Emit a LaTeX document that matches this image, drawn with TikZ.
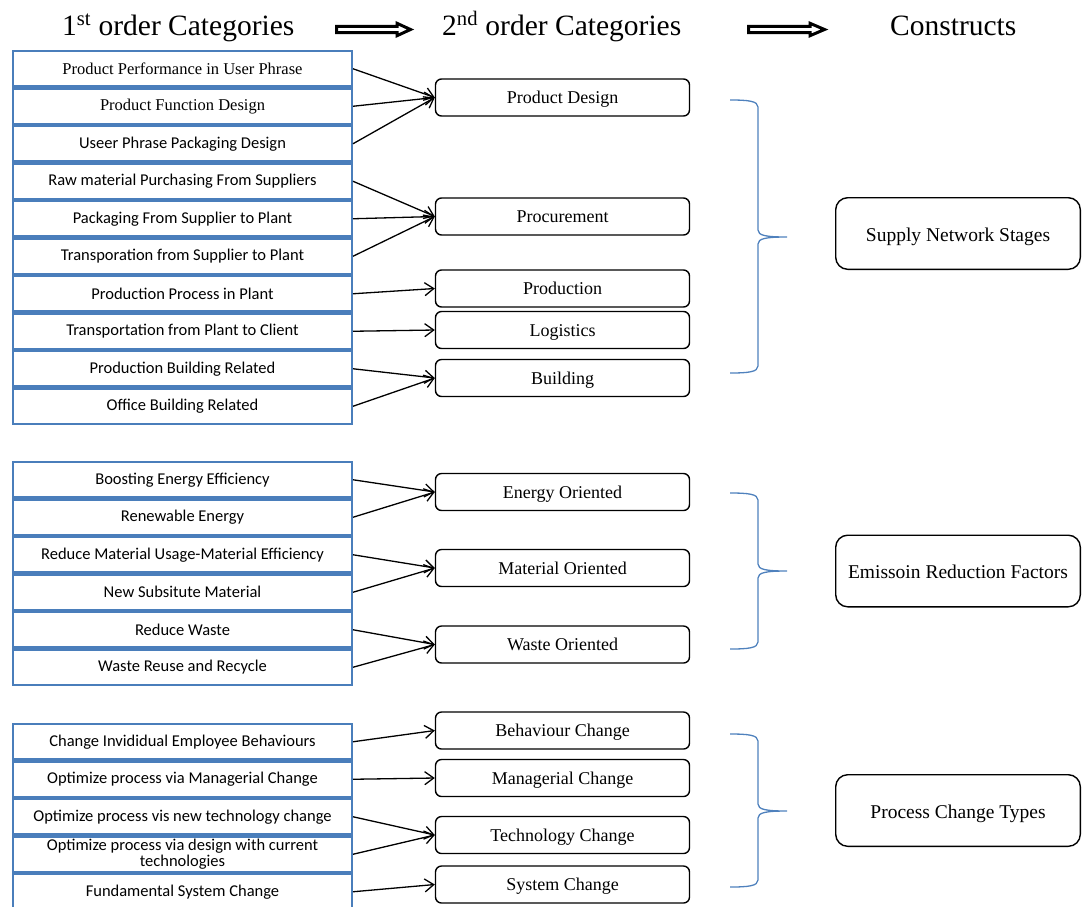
\documentclass[tikz,border=0pt]{standalone}
\usepackage{fontspec}
\setmainfont{Liberation Serif}
\newfontfamily\calfont{Carlito}
\usetikzlibrary{arrows.meta}

\definecolor{boxblue}{RGB}{74,126,187}
\definecolor{braceblue}{RGB}{79,129,189}

\tikzset{
  item/.style={draw=boxblue, line width=2.4pt, fill=white, minimum width=338.6pt,
    minimum height=35.1pt, inner sep=0pt, align=center,
    font=\calfont\fontsize{16.5}{17.5}\selectfont},
  itemserif/.style={item, font=\fontsize{16.5}{17.5}\selectfont},
  cat/.style={draw, rounded corners=6pt, line width=1.4pt, minimum width=254pt,
    minimum height=37pt, inner sep=0pt, text height=15pt, text depth=3pt,
    font=\fontsize{18}{20}\selectfont},
  construct/.style={draw, rounded corners=12pt, line width=1.4pt, minimum width=244.6pt,
    minimum height=71.6pt, inner sep=0pt, text height=17pt, text depth=2pt,
    font=\fontsize{19.5}{22}\selectfont},
  link/.style={line width=1.3pt, -{Straight Barb[length=9pt,width=13pt,line width=1.3pt]}},
  brace/.style={draw=braceblue, line width=1.3pt},
  head/.style={inner sep=0pt, anchor=base west, font=\fontsize{29.5}{32}\selectfont},
  bigarrow/.style={draw, fill=white, line width=3pt, line join=miter},
}

% right-hand curly brace: top, middle, bottom (y values)
\newcommand\curlybrace[3]{%
  \draw[brace] (730,#1) .. controls (748,#1) and (758,#1+1) .. (758,#1+7)
    -- (758,#2-7) .. controls (758,#2-1.5) and (766,#2) .. (787,#2)
    .. controls (766,#2) and (758,#2+1.5) .. (758,#2+7)
    -- (758,#3-7) .. controls (758,#3-1) and (748,#3) .. (730,#3);}

% outlined block arrow: x start, head start, tip, y centre
\newcommand\blockarrow[4]{%
  \draw[bigarrow] (#1+1.5,#4-3.2) -- (#2,#4-3.2) -- (#2,#4-6.2) -- (#3-2.5,#4)
    -- (#2,#4+6.2) -- (#2,#4+3.2) -- (#1+1.5,#4+3.2) -- cycle;}

\begin{document}
\begin{tikzpicture}[x=1pt, y=-1pt]
\useasboundingbox (0,0) rectangle (1083,906);

% column headings
\node[head] (h1) at (62,35) {1\textsuperscript{st} order Categories};
\node[head] (h2) at (442,35) {2\textsuperscript{nd} order Categories};
\node[head] (h3) at (890,35) {Constructs};
\blockarrow{335}{397}{413}{29.5}
\blockarrow{747}{810}{827}{29.5}

% first order categories: supply network stages
\node[itemserif] (a1)  at (182.5, 68.75) {Product Performance in User Phrase};
\node[itemserif] (a2)  at (182.5,106.25) {Product Function Design};
\node[item] (a3)  at (182.5,143.75) {Useer Phrase Packaging Design};
\node[item] (a4)  at (182.5,181.25) {Raw material Purchasing From Suppliers};
\node[item] (a5)  at (182.5,218.75) {Packaging From Supplier to Plant};
\node[item] (a6)  at (182.5,256.25) {Transporation from Supplier to Plant};
\node[item] (a7)  at (182.5,293.75) {Production Process in Plant};
\node[item] (a8)  at (182.5,331.25) {Transportation from Plant to Client};
\node[item] (a9)  at (182.5,368.75) {Production Building Related};
\node[item] (a10) at (182.5,406.25) {Office Building Related};

% first order categories: emission reduction factors
\node[item] (b1) at (182.5,479.75) {Boosting Energy Efficiency};
\node[item] (b2) at (182.5,517.25) {Renewable Energy};
\node[item] (b3) at (182.5,554.75) {Reduce Material Usage-Material Efficiency};
\node[item] (b4) at (182.5,592.25) {New Subsitute Material};
\node[item] (b5) at (182.5,629.75) {Reduce Waste};
\node[item] (b6) at (182.5,667.25) {Waste Reuse and Recycle};

% first order categories: process change types
\node[item] (c1) at (182.5,741.75) {Change Invididual Employee Behaviours};
\node[item] (c2) at (182.5,779.25) {Optimize process via Managerial Change};
\node[item] (c3) at (182.5,816.75) {Optimize process vis new technology change};
\node[item] (c4) at (182.5,854.25) {Optimize process via design with current\\[-1pt]technologies};
\node[item] (c5) at (182.5,891.75) {Fundamental System Change};

% second order categories
\node[cat] (pd)   at (562.5, 97.5) {Product Design};
\node[cat] (proc) at (562.5,216.5) {Procurement};
\node[cat] (prod) at (562.5,288.5) {Production};
\node[cat] (log)  at (562.5,330)   {Logistics};
\node[cat] (bld)  at (562.5,378)   {Building};
\node[cat] (en)   at (562.5,492)   {Energy Oriented};
\node[cat] (mat)  at (562.5,568)   {Material Oriented};
\node[cat] (was)  at (562.5,644.5) {Waste Oriented};
\node[cat] (beh)  at (562.5,730.5) {Behaviour Change};
\node[cat] (man)  at (562.5,778)   {Managerial Change};
\node[cat] (tec)  at (562.5,835)   {Technology Change};
\node[cat] (sys)  at (562.5,884.5) {System Change};

% constructs
\node[construct] (sns) at (958,233.5) {Supply Network Stages};
\node[construct] (erf) at (958,571)   {Emissoin Reduction Factors};
\node[construct] (pct) at (958,810.5) {Process Change Types};

% links from first to second order categories
\draw[link] (a1.east)  -- (pd.west);
\draw[link] (a2.east)  -- (pd.west);
\draw[link] (a3.east)  -- (pd.west);
\draw[link] (a4.east)  -- (proc.west);
\draw[link] (a5.east)  -- (proc.west);
\draw[link] (a6.east)  -- (proc.west);
\draw[link] (a7.east)  -- (prod.west);
\draw[link] (a8.east)  -- (log.west);
\draw[link] (a9.east)  -- (bld.west);
\draw[link] (a10.east) -- (bld.west);
\draw[link] (b1.east) -- (en.west);
\draw[link] (b2.east) -- (en.west);
\draw[link] (b3.east) -- (mat.west);
\draw[link] (b4.east) -- (mat.west);
\draw[link] (b5.east) -- (was.west);
\draw[link] (b6.east) -- (was.west);
\draw[link] (c1.east) -- (beh.west);
\draw[link] (c2.east) -- (man.west);
\draw[link] (c3.east) -- (tec.west);
\draw[link] (c4.east) -- (tec.west);
\draw[link] (c5.east) -- (sys.west);

% braces grouping second order categories into constructs
\curlybrace{100}{237}{373}
\curlybrace{493}{571}{649}
\curlybrace{734}{811}{887}
\end{tikzpicture}
\end{document}
